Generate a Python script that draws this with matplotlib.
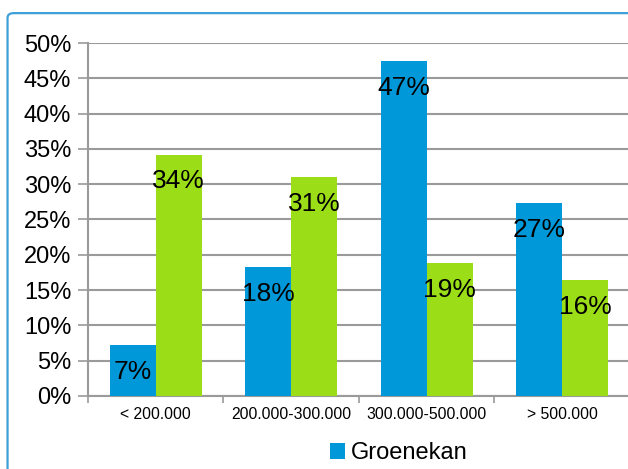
import numpy as np
import matplotlib.pyplot as plt
from matplotlib.patches import FancyBboxPatch
from matplotlib.ticker import MultipleLocator, FuncFormatter

plt.rcParams['font.family'] = ['Liberation Sans', 'DejaVu Sans']

categories = ['< 200.000', '200.000-300.000', '300.000-500.000', '> 500.000']
groenekan = [7.2, 18.3, 47.4, 27.3]
tweede = [34.2, 31.0, 18.8, 16.4]

blue = '#0098d8'
green = '#9bde18'
grid_col = '#9a9a9a'

fig = plt.figure(figsize=(6.28, 4.69), dpi=100)
fig.patch.set_facecolor('white')

# kader rond de grafiek
frame = FancyBboxPatch((0.012, -0.05), 1.2, 1.022, boxstyle='round,pad=0,rounding_size=0.01',
                       transform=fig.transFigure, fill=False, edgecolor='#3fa0d8', lw=1.6)
fig.patches.append(frame)

ax = fig.add_axes([0.140, 0.156, 0.863, 0.752])

x = np.arange(len(categories))
w = 0.34
b1 = ax.bar(x - w / 2, groenekan, w, color=blue, label='Groenekan', zorder=3)
b2 = ax.bar(x + w / 2, tweede, w, color=green, zorder=3)

for bars, vals in ((b1, groenekan), (b2, tweede)):
    for r, v in zip(bars, vals):
        ax.text(r.get_x() + r.get_width() / 2, v - 3.8, '%d%%' % round(v),
                ha='center', va='center', fontsize=19, color='black', zorder=4)

ax.set_xlim(-0.5, 3.5)
ax.set_ylim(0, 50)
ax.yaxis.set_major_locator(MultipleLocator(5))
ax.yaxis.set_major_formatter(FuncFormatter(lambda v, p: '%d%%' % v))
ax.grid(axis='y', color=grid_col, lw=1.5, zorder=0)

ax.set_xticks(x)
ax.set_xticklabels(categories, fontsize=11.3)
ax.set_xticks(np.arange(-0.5, 4.0, 1.0), minor=True)
ax.tick_params(axis='x', which='major', length=0, pad=8)
ax.tick_params(axis='x', which='minor', length=5, color=grid_col, width=1.2, direction='out')
ax.tick_params(axis='y', labelsize=17, length=7, color=grid_col, width=1.2, pad=5)

for s in ('top', 'right'):
    ax.spines[s].set_visible(False)
for s in ('left', 'bottom'):
    ax.spines[s].set_color(grid_col)
    ax.spines[s].set_linewidth(1.5)

ax.legend(loc='center left', bbox_to_anchor=(0.525, 0.034), bbox_transform=fig.transFigure,
          frameon=False, fontsize=17, handlelength=0.65, handleheight=0.65, handletextpad=0.25,
          borderaxespad=0, borderpad=0)

fig.savefig('out.png', dpi=100)
